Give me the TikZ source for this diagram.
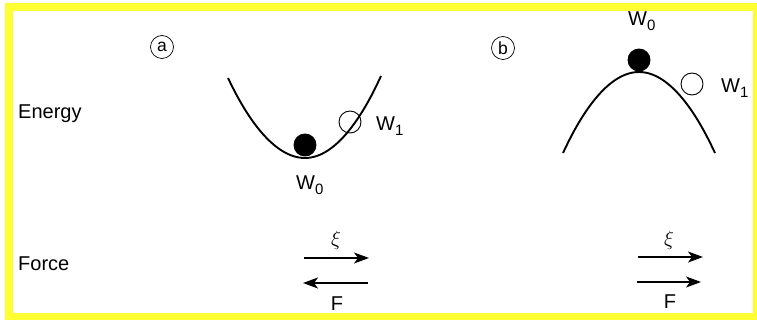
\documentclass[tikz,border=0pt]{standalone}
\usepackage{fontspec}
\setmainfont{Liberation Sans}
\usetikzlibrary{arrows.meta,positioning}
\definecolor{frameyellow}{HTML}{FFFF33}
\newcommand{\wlab}[1]{W\raisebox{-.45ex}{\fontsize{15}{15}\selectfont #1}}

\begin{document}
\begin{tikzpicture}[x=1pt,y=-1pt,
 ball/.style={circle,draw=black,line width=.9pt,minimum size=22pt,inner sep=0pt},
 full/.style={ball,fill=black},
 tag/.style={circle,draw=black,line width=.7pt,minimum size=23pt,inner sep=0pt,
 font=\fontsize{17.5}{17.5}\selectfont},
 lbl/.style={font=\fontsize{20}{22}\selectfont,inner sep=0pt},
 well/.style={line width=1.9pt},
 arr/.style={-{Stealth[length=15pt,width=11pt,inset=4pt]},line width=1.4pt}]
 \useasboundingbox (0,0) rectangle (757,320);
 \draw[frameyellow,line width=8pt] (9,7.5) rectangle (757,317);
 % row titles
 \node[lbl,anchor=base west] (energy) at (18,119) {Energy};
 \node[lbl,anchor=base west] (force) at (18,270) {Force};
 % (a) stable well
 \node[tag] (taga) at (162,47) {a};
 \draw[well] (228,78) parabola bend (305,158) (381,76);
 \node[full] (w0a) at (305,145) {};
 \node[ball] (w1a) at (350,122) {};
 \node[lbl,anchor=base west] (w0alab) at (296,190) {\wlab{0}};
 \node[lbl,anchor=base west] (w1alab) at (376,131) {\wlab{1}};
 % (b) unstable hill
 \node[tag] (tagb) at (503,48) {b};
 \draw[well] (563,153) parabola bend (639,72) (715,153);
 \node[full] (w0b) at (639,60) {};
 \node[ball] (w1b) at (692,84) {};
 \node[lbl,anchor=base west] (w0blab) at (628,26) {\wlab{0}};
 \node[lbl,anchor=base west] (w1blab) at (721,93) {\wlab{1}};
 % forces
 \coordinate (xias) at (304,258); \coordinate (xiae) at (369,258);
 \coordinate (fas) at (368,283); \coordinate (fae) at (303,283);
 \coordinate (xibs) at (638,257); \coordinate (xibe) at (703,257);
 \coordinate (fbs) at (637,282); \coordinate (fbe) at (701,282);
 \draw[arr] (xias)--(xiae); \draw[arr] (fas)--(fae);
 \draw[arr] (xibs)--(xibe); \draw[arr] (fbs)--(fbe);
 \node[font=\fontsize{20}{20}\selectfont] (xia) at (336,240) {$\xi$};
 \node[font=\fontsize{20}{20}\selectfont] (xib) at (669,240) {$\xi$};
 \node[lbl,anchor=base] (fa) at (337,310) {F};
 \node[lbl,anchor=base] (fb) at (670,308) {F};
\end{tikzpicture}
\end{document}
